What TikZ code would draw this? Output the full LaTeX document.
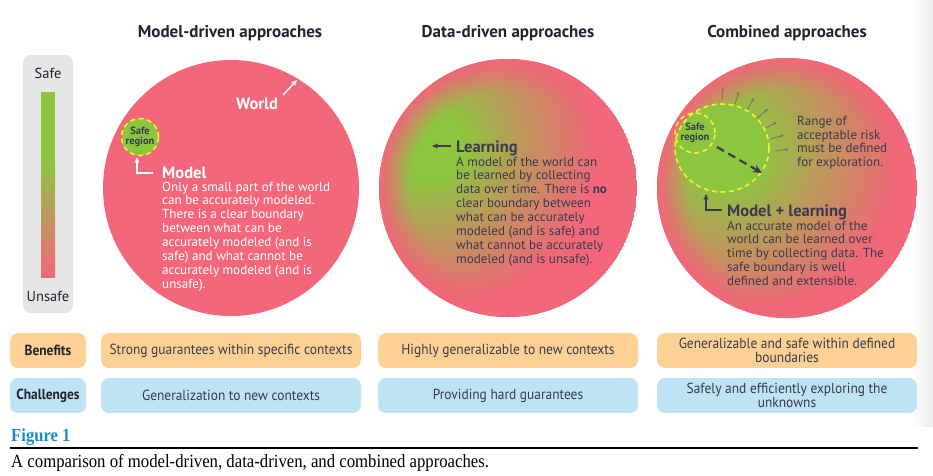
\documentclass[tikz,border=0pt]{standalone}
\usepackage{fontspec}
\setmainfont{PT Sans}
\newfontfamily\condfont{PT Sans}[FakeStretch=0.92]
\newfontfamily\capfont{Liberation Serif}[FakeStretch=0.9]
\usetikzlibrary{arrows.meta,fadings}

\definecolor{worldpink}{HTML}{F2677A}
\definecolor{safegreen}{HTML}{8CC63F}
\definecolor{midtan}{HTML}{BC9A5C}
\definecolor{dashyellow}{HTML}{F8EC3A}
\definecolor{inkdark}{HTML}{3B3A4E}
\definecolor{titleink}{HTML}{23222F}
\definecolor{benefitfill}{HTML}{FDD193}
\definecolor{challengefill}{HTML}{BEE3F5}
\definecolor{panelgray}{HTML}{E6E6E6}
\definecolor{figblue}{HTML}{1E8BC8}
\definecolor{riskarrow}{HTML}{8C6E70}

% soft green glow: opaque core that fades out towards its rim
\pgfdeclareradialshading{glowshade}{\pgfpointorigin}{%
  rgb(0bp)=(1,1,1); rgb(5bp)=(1,1,1);
  rgb(13bp)=(0.55,0.55,0.55); rgb(25bp)=(0,0,0); rgb(50bp)=(0,0,0)}
\pgfdeclarefading{glow}{\pgfuseshading{glowshade}}
% pink rim: clear inside, opaque at the edge of the world
\pgfdeclareradialshading{rimshade}{\pgfpointorigin}{%
  rgb(0bp)=(0,0,0); rgb(19bp)=(0,0,0);
  rgb(25bp)=(1,1,1); rgb(50bp)=(1,1,1)}
\pgfdeclarefading{rim}{\pgfuseshading{rimshade}}

\tikzset{
  heading/.style={font=\bfseries\fontsize{17}{20}\selectfont, text=titleink, anchor=base, inner sep=0},
  lead/.style={font=\bfseries\fontsize{16.5}{19}\selectfont, anchor=base west, inner sep=0},
  body/.style={font=\fontsize{13.1}{13.9}\selectfont, align=left, anchor=north west, inner sep=0},
  safelabel/.style={font=\bfseries\fontsize{10.5}{10.5}\selectfont, text=inkdark, align=center, inner sep=0},
  safeedge/.style={draw=dashyellow, line width=1.6, dash pattern=on 5 off 3.5},
  pointer/.style={line width=1.4, -{Stealth[length=6,width=5]}},
  riskpointer/.style={draw=riskarrow, line width=0.9, -{Stealth[length=4,width=3.5]}},
  rowbox/.style={rounded corners=8, minimum height=35, inner sep=0, align=center,
    font=\condfont\fontsize{14.6}{14.5}\selectfont, text=inkdark},
  rowlabel/.style={rowbox, minimum width=76, font=\condfont\bfseries\fontsize{14.6}{14.5}\selectfont, text=titleink},
  cell/.style={rowbox, minimum width=260},
  legendtext/.style={font=\fontsize{14.5}{16}\selectfont, text=titleink, inner sep=0},
}

\begin{document}
\begin{tikzpicture}[x=1pt,y=-1pt]
\useasboundingbox (0,0) rectangle (933,475);

% page edge shadow on the right
\shade[left color=white, right color=black!8] (911,0) rectangle (933,426);

% ---- safe / unsafe scale ----
\fill[panelgray, rounded corners=8] (23,55) rectangle (73,313);
\node[legendtext] (safe) at (48,73) {Safe};
\node[legendtext] (unsafe) at (48,296) {Unsafe};
\fill[safegreen] (41,92) rectangle (55,162);
\shade[top color=safegreen, middle color=midtan, bottom color=worldpink] (41,161) rectangle (55,277);

% ---- column headings ----
\node[heading] (h1) at (230,37) {Model-driven approaches};
\node[heading] (h2) at (508,37) {Data-driven approaches};
\node[heading] (h3) at (787,37) {Combined approaches};

% ---- model-driven world ----
\node[circle, fill=worldpink, minimum size=256, inner sep=0] (world1) at (231,188) {};
\node[lead, text=white] (worldlbl) at (236,109) {World};
\coordinate (w1tail) at (283,95);
\coordinate (w1head) at (297,80);
\draw[pointer, white] (w1tail) -- (w1head);
\node[circle, minimum size=37, fill=safegreen, safeedge, safelabel] (safe1) at (140,137) {Safe\\region};
\coordinate (m1a) at (153,173);
\coordinate (m1b) at (137,157);
\draw[pointer, white] (m1a) -| (m1b);
\node[lead, text=white] (model1) at (162,178) {Model};
\node[body, text=white] (model1text) at (162,181.5) {Only a small part of the world\\
can be accurately modeled.\\
There is a clear boundary\\
between what can be\\
accurately modeled (and is\\
safe) and what cannot be\\
accurately modeled (and is\\
unsafe).};

% ---- data-driven world ----
\begin{scope}
  \clip (508,188) circle (129);
  \fill[worldpink] (508,188) circle (129);
  \fill[safegreen, path fading=glow] (430,146) circle (165);
  \fill[worldpink, path fading=rim] (508,188) circle (129);
\end{scope}
\node[lead, text=inkdark] (learn2) at (456,152) {Learning};
\coordinate (l2a) at (451,146);
\coordinate (l2b) at (432,146);
\draw[pointer, inkdark] (l2a) -- (l2b);
\node[body, text=inkdark] (learn2text) at (456,156.5) {A model of the world can\\
be learned by collecting\\
data over time. There is \textbf{no}\\
clear boundary between\\
what can be accurately\\
modeled (and is safe) and\\
what cannot be accurately\\
modeled (and is unsafe).};

% ---- combined world ----
\begin{scope}
  \clip (787,188) circle (130);
  \fill[worldpink] (787,188) circle (130);
  \fill[safegreen, path fading=glow] (726,150) circle (175);
  \fill[worldpink, path fading=rim] (787,188) circle (130);
\end{scope}
\filldraw[fill=safegreen, safeedge] (722,148) ellipse [x radius=47, y radius=44];
\node[circle, minimum size=40, safeedge, safelabel] (safe3) at (695,133) {Safe\\region};
\coordinate (grow3a) at (717,147);
\coordinate (grow3b) at (762,173);
\draw[inkdark, line width=2.2, dash pattern=on 8 off 5, -{Stealth[length=9,width=8]}] (grow3a) -- (grow3b);
% outward pushes of the safe boundary
\foreach \ax/\ay/\bx/\by [count=\i] in {722/100/723/87, 735/104/739/91, 747/110/754/98,
    757/118/768/109, 766/128/777/122, 771/139/784/135, 775/151/789/149}{
  \coordinate (rA\i) at (\ax,\ay);
  \coordinate (rB\i) at (\bx,\by);
  \draw[riskpointer] (rA\i) -- (rB\i);
}
\node[body, text=inkdark, font=\fontsize{13.1}{13.4}\selectfont] (risk3) at (797,116.5) {Range of\\
acceptable risk\\
must be defined\\
for exploration.};
\coordinate (m3a) at (722,210);
\coordinate (m3b) at (706,194);
\draw[pointer, inkdark] (m3a) -| (m3b);
\node[lead, text=inkdark] (model3) at (727,216) {Model + learning};
\node[body, text=inkdark] (model3text) at (727,220.5) {An accurate model of the\\
world can be learned over\\
time by collecting data. The\\
safe boundary is well\\
defined and extensible.};

% ---- benefits and challenges ----
\node[rowlabel, fill=benefitfill] (benefits) at (48,350.5) {Benefits};
\node[cell, fill=benefitfill] (b1) at (231,350.5) {Strong guarantees within specific contexts};
\node[cell, fill=benefitfill] (b2) at (508,350.5) {Highly generalizable to new contexts};
\node[cell, fill=benefitfill] (b3) at (787,350.5) {Generalizable and safe within defined\\boundaries};
\node[rowlabel, fill=challengefill] (challenges) at (48,395.5) {Challenges};
\node[cell, fill=challengefill] (c1) at (231,395.5) {Generalization to new contexts};
\node[cell, fill=challengefill] (c2) at (508,395.5) {Providing hard guarantees};
\node[cell, fill=challengefill] (c3) at (787,395.5) {Safely and efficiently exploring the\\unknowns};

% ---- caption ----
\node[anchor=base west, inner sep=0, text=figblue, font=\capfont\bfseries\fontsize{18.5}{20}\selectfont] (fig) at (11,441) {Figure 1};
\coordinate (ruleL) at (10,448);
\coordinate (ruleR) at (918,448);
\draw[line width=1.2] (ruleL) -- (ruleR);
\node[anchor=base west, inner sep=0, font=\capfont\fontsize{18.6}{20}\selectfont] (captext) at (11,467)
  {A comparison of model-driven, data-driven, and combined approaches.};
\end{tikzpicture}
\end{document}
